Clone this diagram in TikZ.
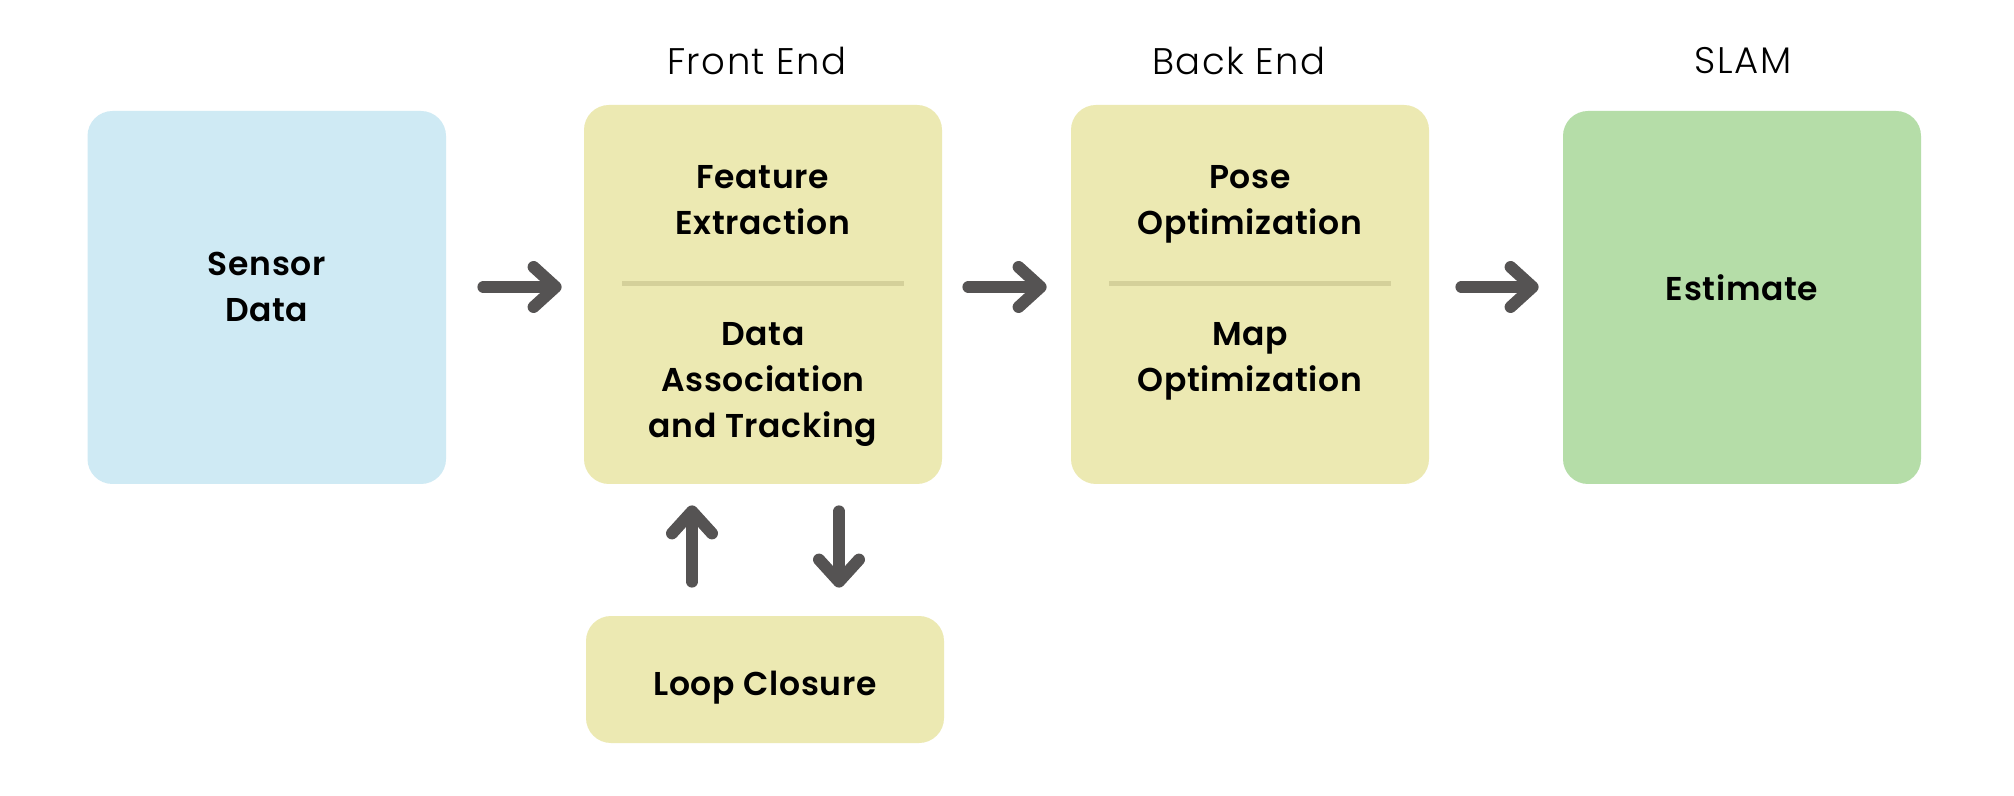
\documentclass[tikz,border=0pt]{standalone}
\usepackage{fontspec}
\setmainfont{Poppins}[BoldFont={Poppins SemiBold}]
\newfontfamily\hdrfont{Poppins Light}[LetterSpace=4]
\newfontfamily\lblfont{Poppins SemiBold}[LetterSpace=2]
\usetikzlibrary{arrows.meta}
\definecolor{blueF}{HTML}{CFEAF4}
\definecolor{yelF}{HTML}{ECE9B2}
\definecolor{greenF}{HTML}{B5DDA8}
\definecolor{sepC}{HTML}{D4D09A}
\definecolor{arrC}{HTML}{555353}
\begin{document}
\begin{tikzpicture}[x=0.5pt,y=-0.5pt,
  box/.style={rectangle, rounded corners=12.5pt, inner sep=0pt, draw=none},
  lbl/.style={font=\lblfont\fontsize{16.5}{23}\selectfont, align=center, inner sep=0pt, text=black},
  hdr/.style={font=\hdrfont\fontsize{18.5}{22}\selectfont, inner sep=0pt, text=black},
  arr/.style={draw=arrC, line width=6pt, line cap=round, line join=round, -{Straight Barb[length=11pt, width=20pt, round]}},
  sepline/.style={draw=sepC, line width=2.5pt}]
\useasboundingbox[fill=white] (0,0) rectangle (2014,796);
% boxes
\node[box, fill=blueF, minimum width=179.25pt, minimum height=186.5pt] (sensor) at (266.75,297.5) {};
\node[box, fill=yelF, minimum width=179pt, minimum height=189.5pt] (front) at (763,294.5) {};
\node[box, fill=yelF, minimum width=179pt, minimum height=189.5pt] (back) at (1250,294.5) {};
\node[box, fill=greenF, minimum width=179pt, minimum height=186.5pt] (est) at (1742,297.5) {};
\node[box, fill=yelF, minimum width=179pt, minimum height=63.5pt] (loop) at (765,679.5) {};
% headers
\node[hdr] (hfront) at (757,61) {Front End};
\node[hdr] (hback) at (1239,61) {Back End};
\node[hdr] (hslam) at (1743,61) {SLAM};
% labels
\node[lbl] (tsensor) at (266.75,287) {Sensor\\Data};
\node[lbl] (tfeat) at (763,200) {Feature\\Extraction};
\node[lbl] (tdata) at (763,384) {Data\\Association\\and Tracking};
\node[lbl] (tpose) at (1250,204) {Pose\\Optimization};
\node[lbl] (tmap) at (1250,361) {Map\\Optimization};
\node[lbl] (test) at (1742,288) {Estimate};
\node[lbl] (tloop) at (765,688) {Loop Closure};
% separators
\draw[sepline] (622,284) -- (904,284);
\draw[sepline] (1109,284) -- (1391,284);
% arrows
\coordinate (ay) at (0,287);
\coordinate (upx) at (692,0);
\coordinate (dnx) at (839,0);
\draw[arr, shorten <=18.5pt, shorten >=11pt] (sensor.east |- ay) -- (front.west |- ay);
\draw[arr, shorten <=13pt, shorten >=12pt] (front.east |- ay) -- (back.west |- ay);
\draw[arr, shorten <=16pt, shorten >=12pt] (back.east |- ay) -- (est.west |- ay);
\draw[arr, shorten <=17pt, shorten >=10.5pt] (upx |- loop.north) -- (upx |- front.south);
\draw[arr, shorten <=13.5pt, shorten >=14pt] (dnx |- front.south) -- (dnx |- loop.north);
\end{tikzpicture}
\end{document}
